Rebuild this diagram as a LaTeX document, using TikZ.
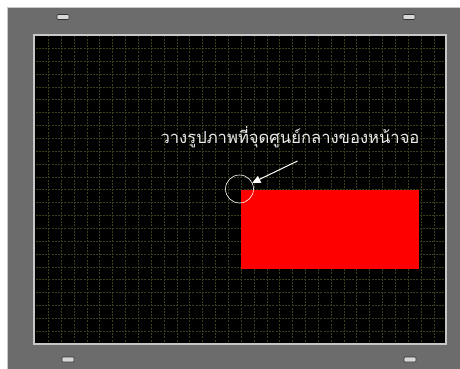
\documentclass[tikz,border=0pt]{standalone}
\usepackage{fontspec}
\newfontfamily\thaifont[Script=Thai]{Loma}
\usepackage{tikz}
\usetikzlibrary{arrows.meta, positioning, calc}
\definecolor{panelgray}{RGB}{108,108,108}
\definecolor{rimgray}{RGB}{200,200,200}
\definecolor{gridolive}{RGB}{58,64,28}
\definecolor{knobfill}{RGB}{215,215,215}
\definecolor{textgray}{RGB}{235,235,235}
\tikzset{
  knob/.style     = {draw=black!80, fill=knobfill, rounded corners=1pt,
                     minimum width=12pt, minimum height=5pt, inner sep=0pt,
                     line width=0.6pt},
  gridline/.style = {gridolive, line width=0.6pt, dash pattern=on 2pt off 1.2pt},
  picbox/.style   = {fill=red, draw=none, minimum width=178.5pt,
                     minimum height=79pt, inner sep=0pt, anchor=north west},
  marker/.style   = {circle, draw=white, line width=0.6pt, minimum size=28pt,
                     inner sep=0pt},
  caption/.style  = {font=\thaifont\fontsize{16.6}{18}\selectfont, text=textgray,
                     inner sep=0pt},
  pointer/.style  = {-{Triangle[length=8pt, width=7.5pt]}, white, line width=1pt},
}

\begin{document}
\begin{tikzpicture}[x=1pt, y=-1pt]
    \useasboundingbox (0,0) rectangle (460,369);

    % --- device body --------------------------------------------------------
    \fill[white] (0,0) rectangle (460,369);
    \fill[panelgray] (8,8) rectangle (460,369);
    \draw[rimgray, line width=1pt] (7.5,369) -- (7.5,7.5) -- (460,7.5);

    % --- knobs ----------------------------------------------------------------
    \node[knob] (knobTL) at (63,17) {};
    \node[knob] (knobTR) at (409,17) {};
    \node[knob] (knobBL) at (68,359.5) {};
    \node[knob] (knobBR) at (410,359.5) {};

    % --- screen ---------------------------------------------------------------
    \fill[black] (34,35) rectangle (446,344);
    \foreach \k in {1,...,31}
      \draw[gridline] ({35.5+12.85*\k},35.5) -- ({35.5+12.85*\k},343.5);
    \foreach \k in {1,...,23}
      \draw[gridline] (35.5,{35.5+12.85*\k}) -- (445.5,{35.5+12.85*\k});
    \draw[rimgray, line width=1.5pt] (34,35) rectangle (446,344);

    % --- picture placed at the screen centre ----------------------------------
    \coordinate (centre) at (240.5,190);
    \node[picbox] (pic) at (centre) {};
    \node[marker] (mark) at (239.5,189) {};

    % --- caption and pointer --------------------------------------------------
    \node[caption, anchor=base] (note) at (290,143)
      {วางรูปภาพที่จุดศูนย์กลางของหน้าจอ};
    \coordinate (tail) at (297.5,161);
    \draw[pointer] (tail) -- (mark);

  \end{tikzpicture}
\end{document}
